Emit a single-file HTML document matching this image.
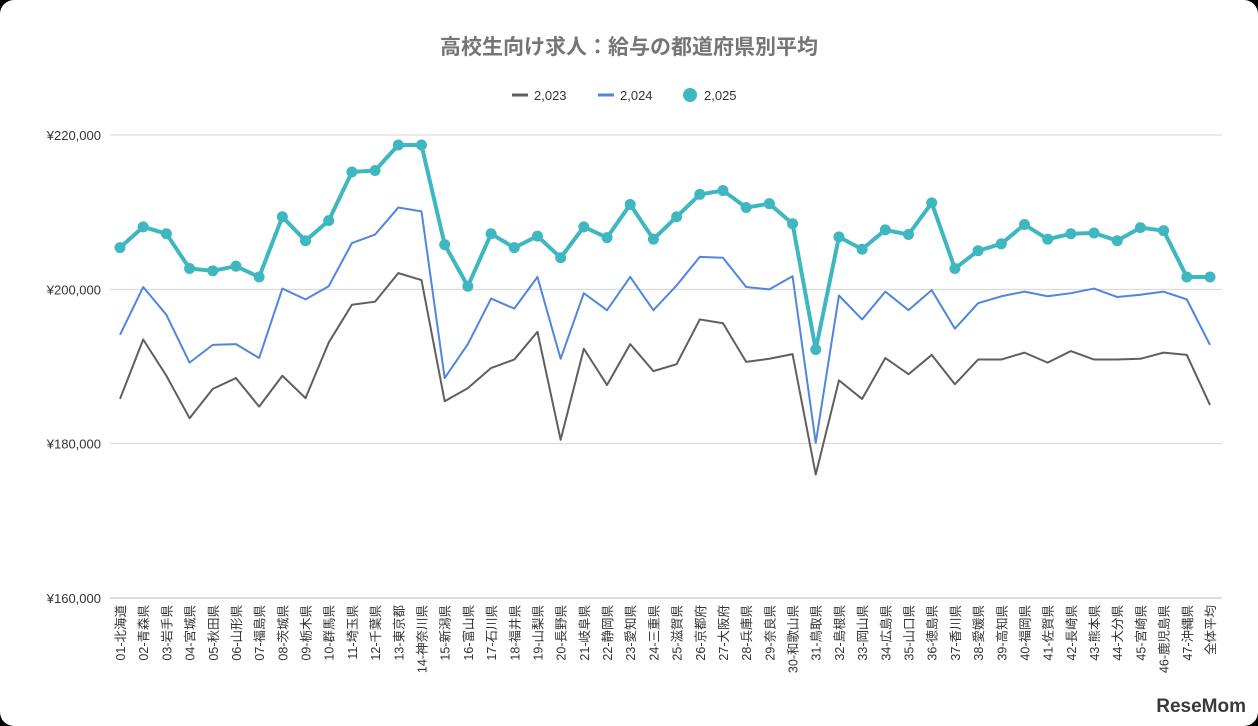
<!DOCTYPE html>
<html><head><meta charset="utf-8"><style>
body{margin:0;background:#000;}
#card{position:absolute;left:0;top:0;width:1258px;height:726px;background:#fff;border-radius:14px;overflow:hidden}
svg{position:absolute;left:0;top:0}
text{font-family:"Liberation Sans","Noto Sans CJK JP",sans-serif}
</style></head><body>
<div id="card">
<svg id="chart" width="1258" height="726"></svg>
</div>
<script>
const categories=["01-北海道","02-青森県","03-岩手県","04-宮城県","05-秋田県","06-山形県","07-福島県","08-茨城県","09-栃木県","10-群馬県","11-埼玉県","12-千葉県","13-東京都","14-神奈川県","15-新潟県","16-富山県","17-石川県","18-福井県","19-山梨県","20-長野県","21-岐阜県","22-静岡県","23-愛知県","24-三重県","25-滋賀県","26-京都府","27-大阪府","28-兵庫県","29-奈良県","30-和歌山県","31-鳥取県","32-島根県","33-岡山県","34-広島県","35-山口県","36-徳島県","37-香川県","38-愛媛県","39-高知県","40-福岡県","41-佐賀県","42-長崎県","43-熊本県","44-大分県","45-宮崎県","46-鹿児島県","47-沖縄県","全体平均"];
const s2023=[185800,193500,188800,183300,187100,188500,184800,188800,185900,193100,198000,198400,202100,201200,185500,187200,189800,190900,194500,180500,192300,187600,192900,189400,190300,196100,195600,190600,191000,191600,176000,188200,185800,191100,189000,191500,187700,190900,190900,191800,190500,192000,190900,190900,191000,191800,191500,185000];
const s2024=[194100,200300,196700,190500,192800,192900,191100,200100,198700,200400,206000,207100,210600,210100,188500,192900,198800,197500,201600,191000,199500,197300,201600,197300,200500,204200,204100,200300,200000,201700,180100,199200,196100,199700,197300,199900,194900,198200,199100,199700,199100,199500,200100,199000,199300,199700,198700,192800];
const s2025=[205400,208100,207200,202700,202400,203000,201600,209400,206300,208900,215200,215400,218700,218700,205800,200400,207200,205400,206900,204100,208100,206700,211000,206500,209400,212300,212800,210600,211100,208500,192200,206800,205200,207700,207100,211200,202700,205000,205900,208400,206500,207200,207300,206300,208000,207600,201600,201600];
const yTicks=[160000,180000,200000,220000];
const yTickLabels=["¥160,000","¥180,000","¥200,000","¥220,000"];
const seriesNames=["2,023","2,024","2,025"];
const NS="http://www.w3.org/2000/svg";
const svg=document.getElementById('chart');
const x=i=>120+i*(1210-120)/(categories.length-1);
const y=v=>598-(v-160000)/60000*(598-135);
function el(t,a,p){const e=document.createElementNS(NS,t);for(const k in a)e.setAttribute(k,a[k]);(p||svg).appendChild(e);return e;}
const title=el('text',{x:629,y:54,'text-anchor':'middle','font-size':21,'font-weight':'bold',fill:'#757575'});
title.textContent="高校生向け求人：給与の都道府県別平均";


yTicks.forEach((t,i)=>{
 const g=el('line',{x1:110,x2:1222,y1:y(t),y2:y(t),stroke:i==0?'#bbb':'#d6d6d6','stroke-width':1});
 
 
 const l=el('text',{x:101,y:y(t)+5,'text-anchor':'end','font-size':13,fill:'#333'});
 l.textContent=yTickLabels[i];
 
 
});
categories.forEach((c,i)=>{
 const l=el('text',{transform:`translate(${x(i)+5},605) rotate(-90)`,'text-anchor':'end','font-size':12.5,fill:'#333'});
 l.textContent=c;
 
 
});
function line(data,color,w,name){
 const p=el('polyline',{points:data.map((v,i)=>x(i)+','+y(v)).join(' '),fill:'none',stroke:color,'stroke-width':w,'stroke-linejoin':'round'});
 
 
}
line(s2023,'#5f5f5f',2,'series-2023-line');
line(s2024,'#4f86e0',2,'series-2024-line');
line(s2025,'#3fb7c0',4,'series-2025-line');
s2025.forEach((v,i)=>{
 const c=el('circle',{cx:x(i),cy:y(v),r:5.5,fill:'#3fb7c0'});
 
 
});
// legend
const lg=el('g',{});


[[512,'#5f5f5f'],[598,'#4f86e0']].forEach((d,i)=>{
 const s=el('line',{x1:d[0],x2:d[0]+16,y1:95,y2:95,stroke:d[1],'stroke-width':3},lg);
 
 
 const t=el('text',{x:d[0]+22,y:100,'font-size':13,fill:'#333'},lg);
 t.textContent=seriesNames[i];
 
 
});
const lc=el('circle',{cx:690,cy:95,r:7,fill:'#3fb7c0'},lg);


const lt=el('text',{x:704,y:100,'font-size':13,fill:'#333'},lg);
lt.textContent=seriesNames[2];


const wm=el('text',{x:1246,y:712,'text-anchor':'end','font-size':19,'font-weight':'bold',fill:'#3a3a3a'});
wm.textContent="ReseMom";


</script>
</body></html>
